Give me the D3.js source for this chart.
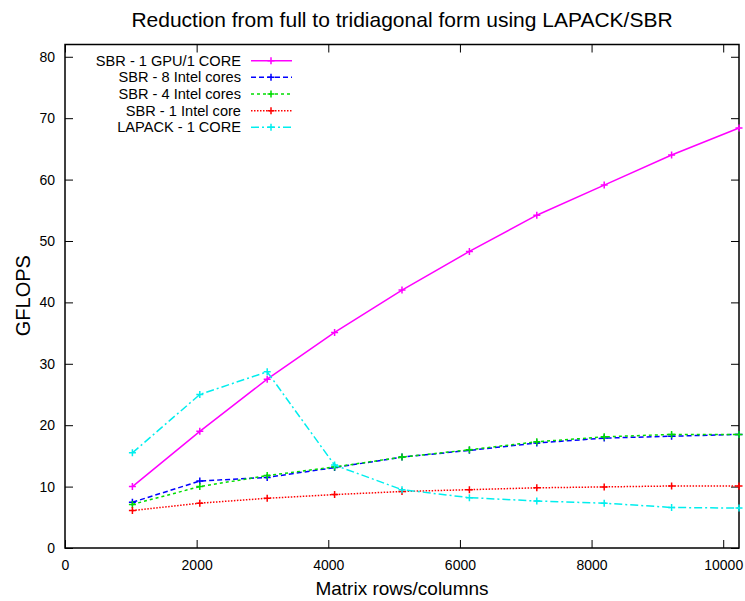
<!DOCTYPE html>
<html>
<head>
<meta charset="utf-8">
<script src="https://cdn.jsdelivr.net/npm/d3@7"></script>
<style>
  body { margin: 0; background: #fff; }
  text { font-family: "Liberation Sans", Arial, sans-serif; fill: #000; }
</style>
</head>
<body>
<div class="chart"></div>
<script>
var margin = {top: 44.5, right: 6, bottom: 53, left: 65}
var W = 745, H = 601
var width = W - margin.left - margin.right
var height = H - margin.top - margin.bottom

// matrix sizes (rows/columns)
var sizes = [1024, 2048, 3072, 4096, 5120, 6144, 7168, 8192, 9216, 10240]

// GFLOPS per series
var gpu1core   = [10.0, 19.0, 27.5, 35.1, 42.0, 48.3, 54.2, 59.1, 64.0, 68.4]
var intel8     = [7.45, 10.9, 11.5, 13.1, 14.8, 15.9, 17.1, 17.9, 18.2, 18.5]
var intel4     = [7.1, 10.0, 11.8, 13.2, 14.8, 16.0, 17.3, 18.1, 18.5, 18.5]
var intel1     = [6.1, 7.3, 8.1, 8.7, 9.2, 9.5, 9.8, 9.95, 10.1, 10.1]
var lapack1    = [15.5, 25.0, 28.7, 13.5, 9.5, 8.2, 7.65, 7.3, 6.6, 6.5]

var labels = ['SBR - 1 GPU/1 CORE', 'SBR - 8 Intel cores', 'SBR - 4 Intel cores', 'SBR - 1 Intel core', 'LAPACK - 1 CORE']
var xTicks = [0, 2000, 4000, 6000, 8000, 10000]
var yTicks = [0, 10, 20, 30, 40, 50, 60, 70, 80]

var series = [
  {name: labels[0], values: gpu1core, color: '#ff00ff', dash: null},
  {name: labels[1], values: intel8,   color: '#0000ff', dash: '5,3'},
  {name: labels[2], values: intel4,   color: '#00dd00', dash: '3,3'},
  {name: labels[3], values: intel1,   color: '#ff0000', dash: '1.5,1.5'},
  {name: labels[4], values: lapack1,  color: '#00eeee', dash: '8,3,2,3'}
]

var svg = d3.select('.chart')
  .append('svg')
  .attr('width', W)
  .attr('height', H)

var g = svg.append('g')
  .attr('transform', 'translate(' + margin.left + ',' + margin.top + ')')

var x = d3.scaleLinear().domain([0, 10240]).range([0, width])
var y = d3.scaleLinear().domain([0, 82]).range([height, 0])

var tick = 8

// axes with inward ticks, mirrored on top/right
g.append('g')
  .attr('transform', 'translate(0,' + height + ')')
  .call(d3.axisBottom(x).tickValues(xTicks).tickFormat(d3.format('d'))
    .tickSizeInner(-tick).tickSizeOuter(0).tickPadding(12))
g.append('g')
  .call(d3.axisTop(x).tickValues(xTicks).tickFormat('')
    .tickSizeInner(-tick).tickSizeOuter(0))
g.append('g')
  .call(d3.axisLeft(y).tickValues(yTicks)
    .tickSizeInner(-tick).tickSizeOuter(0).tickPadding(10))
g.append('g')
  .attr('transform', 'translate(' + width + ',0)')
  .call(d3.axisRight(y).tickValues(yTicks).tickFormat('')
    .tickSizeInner(-tick).tickSizeOuter(0))

g.selectAll('.domain').remove()
g.selectAll('.tick line').attr('stroke', '#000').attr('stroke-width', 1)
g.selectAll('.tick text')
  .style('font-size', '14px')
  .style('font-family', '"Liberation Sans", Arial, sans-serif')

g.append('rect')
  .attr('width', width)
  .attr('height', height)
  .attr('fill', 'none')
  .attr('stroke', '#000')
  .attr('stroke-width', 1.5)

var line = d3.line()
  .x(function(d, i) { return x(sizes[i]) })
  .y(function(d) { return y(d) })

var plus = 3.5

function drawPlus(sel, color) {
  sel.append('path')
    .attr('d', 'M' + (-plus) + ',0H' + plus + 'M0,' + (-plus) + 'V' + plus)
    .attr('stroke', color)
    .attr('stroke-width', 1.5)
    .attr('fill', 'none')
}

series.forEach(function(s) {
  g.append('path')
    .datum(s.values)
    .attr('d', line)
    .attr('fill', 'none')
    .attr('stroke', s.color)
    .attr('stroke-width', 1.5)
    .attr('stroke-dasharray', s.dash)

  g.selectAll(null)
    .data(s.values)
    .enter().append('g')
    .attr('transform', function(d, i) { return 'translate(' + x(sizes[i]) + ',' + y(d) + ')' })
    .each(function() { drawPlus(d3.select(this), s.color) })
})

// legend
var legend = svg.append('g')
var leg = legend.selectAll('g')
  .data(series)
  .enter().append('g')
  .attr('transform', function(d, i) { return 'translate(0,' + (60.7 + i * 16.65) + ')' })

leg.append('text')
  .attr('x', 241)
  .attr('dy', '0.35em')
  .attr('text-anchor', 'end')
  .style('font-size', '14.6px')
  .text(function(d) { return d.name })

leg.append('line')
  .attr('x1', 251)
  .attr('x2', 292)
  .attr('stroke', function(d) { return d.color })
  .attr('stroke-width', 1.5)
  .attr('stroke-dasharray', function(d) { return d.dash })

leg.append('g')
  .attr('transform', 'translate(271,0)')
  .each(function(d) { drawPlus(d3.select(this), d.color) })

// title and axis labels
svg.append('text')
  .attr('x', margin.left + width / 2)
  .attr('y', 26.7)
  .attr('text-anchor', 'middle')
  .style('font-size', '21px')
  .text('Reduction from full to tridiagonal form using LAPACK/SBR')

svg.append('text')
  .attr('x', margin.left + width / 2)
  .attr('y', 595)
  .attr('text-anchor', 'middle')
  .style('font-size', '19px')
  .text('Matrix rows/columns')

svg.append('text')
  .attr('transform', 'translate(30,295.7) rotate(-90)')
  .attr('text-anchor', 'middle')
  .style('font-size', '20px')
  .text('GFLOPS')
</script>
</body>
</html>
